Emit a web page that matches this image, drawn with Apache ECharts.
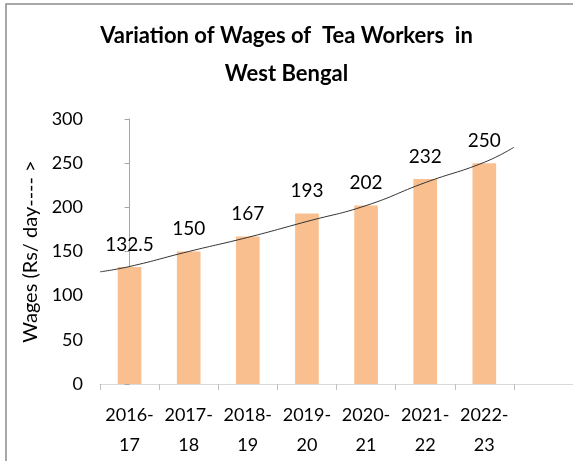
<!DOCTYPE html>
<html>
<head>
<meta charset="utf-8">
<script src="https://cdn.jsdelivr.net/npm/echarts@6/dist/echarts.min.js"></script>
<style>
  html, body { margin: 0; padding: 0; background: #fff; }
  #chart { width: 573px; height: 461px; }
</style>
</head>
<body>
<div id="chart"></div>
<script>
// categories: financial years (the 8th slot is empty, as in the original)
var years = ['2016-\n17', '2017-\n18', '2018-\n19', '2019-\n20', '2020-\n21', '2021-\n22', '2022-\n23', ''];
var wages = [132.5, 150, 167, 193, 202, 232, 250];
// trend line: [category position, value]
var trendPoints = [[-0.5, 127], [0, 133], [1, 150], [2, 166], [3, 184], [4, 202], [5, 228], [6, 251], [6.5, 268]];
var yTicks = [0, 50, 100, 150, 200, 250, 300];

var font = 'Lato';
var chart = echarts.init(document.getElementById('chart'));

var option = {
  animation: false,
  backgroundColor: '#fff',
  graphic: [{
    type: 'rect',
    shape: { x: 6, y: 4, width: 620, height: 520 },
    style: { fill: 'none', stroke: '#8c8c8c', lineWidth: 1.5 },
    silent: true
  }],
  title: {
    text: 'Variation of Wages of  Tea Workers  in\nWest Bengal',
    left: 'center',
    top: 12,
    textStyle: {
      fontFamily: font,
      fontWeight: 'bold',
      fontSize: 22,
      lineHeight: 38,
      color: '#000'
    }
  },
  grid: { left: 100, right: -7, top: 119, bottom: 77 },
  xAxis: [{
    type: 'category',
    data: years,
    axisLine: { lineStyle: { color: '#d9d9d9' } },
    axisTick: { show: true, length: 6, lineStyle: { color: '#bfbfbf' } },
    axisLabel: {
      fontFamily: font,
      fontSize: 18,
      lineHeight: 30,
      color: '#000',
      margin: 16,
      interval: 0
    }
  }, {
    type: 'value',
    min: -0.5,
    max: 7.5,
    show: false
  }],
  yAxis: {
    type: 'value',
    min: yTicks[0],
    max: yTicks[yTicks.length - 1],
    interval: 50,
    name: 'Wages (Rs/ day---- >',
    nameLocation: 'middle',
    nameGap: 57,
    nameTextStyle: { fontFamily: font, fontSize: 20, color: '#000' },
    axisLine: { show: true, lineStyle: { color: '#a6a6a6' } },
    axisTick: { show: true, length: 5, lineStyle: { color: '#a6a6a6' } },
    splitLine: { show: false },
    axisLabel: { fontFamily: font, fontSize: 18, color: '#000', margin: 17 }
  },
  series: [{
    name: 'Wages',
    type: 'bar',
    data: wages,
    barWidth: '40%',
    itemStyle: { color: '#f9bf8f' },
    label: {
      show: true,
      position: 'top',
      distance: 13,
      fontFamily: font,
      fontSize: 19,
      color: '#000'
    }
  }, {
    name: 'Trend',
    type: 'line',
    xAxisIndex: 1,
    data: trendPoints,
    smooth: true,
    symbol: 'none',
    lineStyle: { color: '#333', width: 1 },
    z: 5
  }]
};

chart.setOption(option);
</script>
</body>
</html>
